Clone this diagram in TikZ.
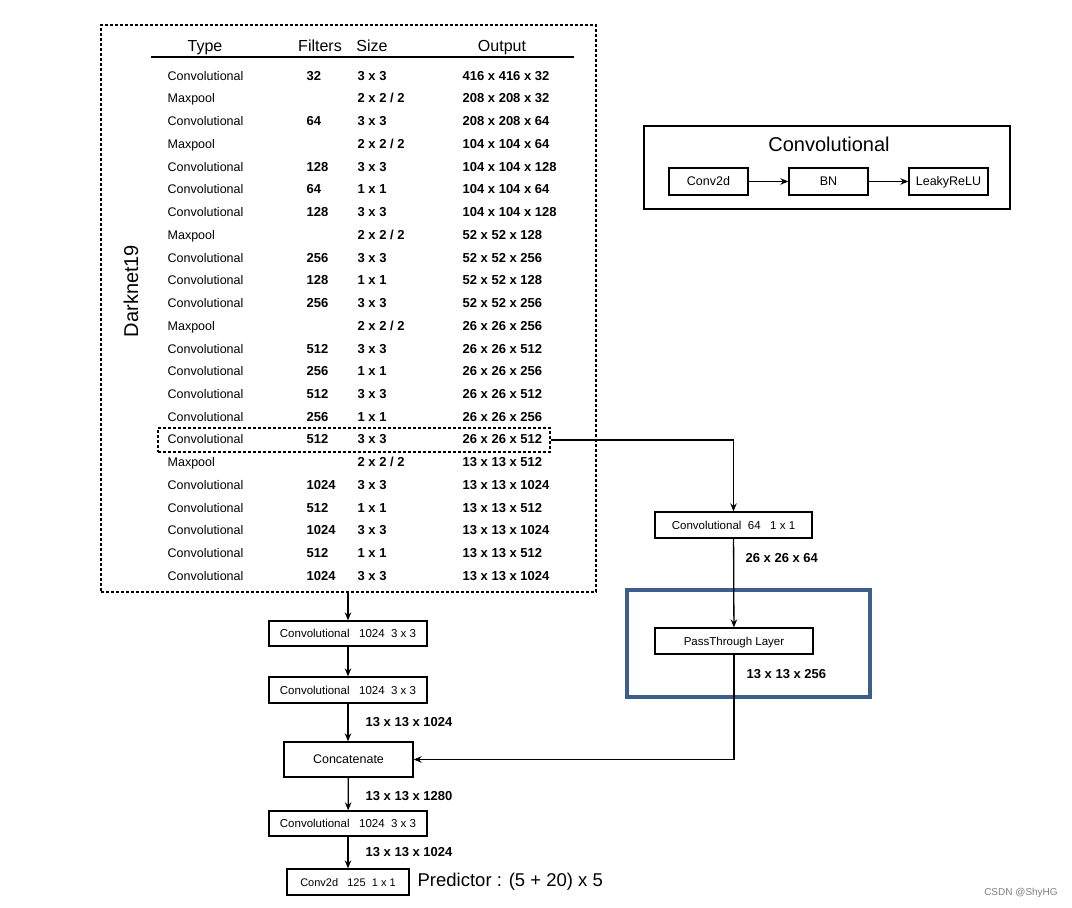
\documentclass[tikz,border=0pt]{standalone}
\usepackage{fontspec}
\setmainfont{Liberation Sans}
\usetikzlibrary{arrows.meta}
\definecolor{focusblue}{RGB}{59,94,138}

\begin{document}
\begin{tikzpicture}[x=1pt,y=-1pt,>={Stealth[length=8pt,width=6.5pt]},line width=1.3pt,
  cell/.style={inner sep=0,anchor=west,text height=9pt,text depth=2.5pt,font=\fontsize{12.5}{14}\selectfont},
  cellb/.style={cell,font=\fontsize{13}{15}\selectfont\bfseries},
  head/.style={inner sep=0,anchor=base,font=\fontsize{16}{18}\selectfont},
  blk/.style={draw,line width=1.3pt,inner sep=0,minimum height=25pt,text height=8.5pt,text depth=0.5pt,font=\fontsize{11.5}{13}\selectfont},
  dim/.style={inner sep=0,anchor=west,text height=9pt,text depth=0pt,font=\fontsize{13}{15}\selectfont\bfseries},
  dashbox/.style={draw,dash pattern=on 3pt off 2pt,line width=1.1pt}]
\useasboundingbox (0,0) rectangle (1072,908);
\node[dashbox,inner sep=0,minimum width=495pt,minimum height=567pt](darknet) at (348.5,308.5){};
\node[rotate=90,inner sep=0,font=\fontsize{20}{22}\selectfont](dnlabel) at (131,291){Darknet19};
\node[head](hType) at (205,51.5){Type};
\node[head](hFilt) at (320,51.5){Filters};
\node[head](hSize) at (372,51.5){Size};
\node[head](hOut) at (502,51.5){Output};
\draw[line width=1.3pt](151,57)--(574,57);
\foreach \rtype/\rfilt/\rsize/\rout [count=\i] in {
  Convolutional/32/3 x 3/416 x 416 x 32,
  Maxpool//{2 x 2 / 2}/208 x 208 x 32,
  Convolutional/64/3 x 3/208 x 208 x 64,
  Maxpool//{2 x 2 / 2}/104 x 104 x 64,
  Convolutional/128/3 x 3/104 x 104 x 128,
  Convolutional/64/1 x 1/104 x 104 x 64,
  Convolutional/128/3 x 3/104 x 104 x 128,
  Maxpool//{2 x 2 / 2}/52 x 52 x 128,
  Convolutional/256/3 x 3/52 x 52 x 256,
  Convolutional/128/1 x 1/52 x 52 x 128,
  Convolutional/256/3 x 3/52 x 52 x 256,
  Maxpool//{2 x 2 / 2}/26 x 26 x 256,
  Convolutional/512/3 x 3/26 x 26 x 512,
  Convolutional/256/1 x 1/26 x 26 x 256,
  Convolutional/512/3 x 3/26 x 26 x 512,
  Convolutional/256/1 x 1/26 x 26 x 256,
  Convolutional/512/3 x 3/26 x 26 x 512,
  Maxpool//{2 x 2 / 2}/13 x 13 x 512,
  Convolutional/1024/3 x 3/13 x 13 x 1024,
  Convolutional/512/1 x 1/13 x 13 x 512,
  Convolutional/1024/3 x 3/13 x 13 x 1024,
  Convolutional/512/1 x 1/13 x 13 x 512,
  Convolutional/1024/3 x 3/13 x 13 x 1024}{
  \node[cell](t\i) at (167,{77+22.73*(\i-1)}){\rtype};
  \node[cellb](f\i) at (306,{77+22.73*(\i-1)}){\rfilt};
  \node[cellb](s\i) at (357,{77+22.73*(\i-1)}){\rsize};
  \node[cellb](o\i) at (462,{77+22.73*(\i-1)}){\rout};
}
\node[dashbox,inner sep=0,minimum width=392pt,minimum height=24pt](route) at (354,440){};

\node[draw,line width=1.3pt,inner sep=0,minimum width=366pt,minimum height=83pt](convdef) at (827,167.5){};
\node[inner sep=0,font=\fontsize{20}{22}\selectfont](convtitle) at (829,144){Convolutional};
\node[blk,minimum width=79pt,minimum height=27pt,font=\fontsize{12.5}{14}\selectfont](c2d) at (708.5,181.5){Conv2d};
\node[blk,minimum width=79pt,minimum height=27pt,font=\fontsize{12.5}{14}\selectfont](bn) at (828.5,181.5){BN};
\node[blk,minimum width=79pt,minimum height=27pt,font=\fontsize{12.5}{14}\selectfont](relu) at (948.5,181.5){LeakyReLU};
\draw[->](c2d)--(bn);
\draw[->](bn)--(relu);

\node[blk,minimum width=157pt,minimum height=26pt](p64) at (733.5,525){Convolutional~~64~~~1 x 1};
\node[dim](d64) at (745,558){26 x 26 x 64};
\node[draw=focusblue,line width=4pt,inner sep=0,minimum width=243pt,minimum height=107pt](focus) at (748.5,643.5){};
\node[blk,minimum width=158pt,minimum height=26pt](pass) at (734,641){PassThrough Layer};
\node[dim](d256) at (746,674){13 x 13 x 256};
\draw[->](route.east)-|(p64.north);
\draw[->](p64)--(pass);

\node[blk,minimum width=158pt](b1) at (348,633.5){Convolutional~~~1024~~3 x 3};
\node[blk,minimum width=158pt,minimum height=26pt](b2) at (348,690){Convolutional~~~1024~~3 x 3};
\node[dim](d1024a) at (365,722){13 x 13 x 1024};
\node[blk,minimum width=129pt,minimum height=35pt,font=\fontsize{12.5}{14}\selectfont](cat) at (348.5,759.5){Concatenate};
\node[dim](d1280) at (365,796){13 x 13 x 1280};
\node[blk,minimum width=158pt](b3) at (348,823.5){Convolutional~~~1024~~3 x 3};
\node[dim](d1024b) at (365,852){13 x 13 x 1024};
\node[blk,minimum width=122pt,minimum height=26pt,font=\fontsize{11}{13}\selectfont](pred) at (348,882){Conv2d~~~125~~1 x 1};
\node[inner sep=0,anchor=west,text height=13pt,text depth=4pt,font=\fontsize{18.5}{20}\selectfont](predtxt) at (417,882){Predictor : (5 + 20) x 5};
\draw[->](darknet.south-|b1.north)--(b1);
\draw[->](b1)--(b2);
\draw[->](b2)--(b2|-cat.north);
\draw[->](cat)--(b3);
\draw[->](b3)--(pred);
\draw[->](pass.south)|-(cat.east);

\node[inner sep=0,text=gray,font=\fontsize{10}{12}\selectfont](mark) at (1021,893){CSDN @ShyHG};
\end{tikzpicture}
\end{document}
